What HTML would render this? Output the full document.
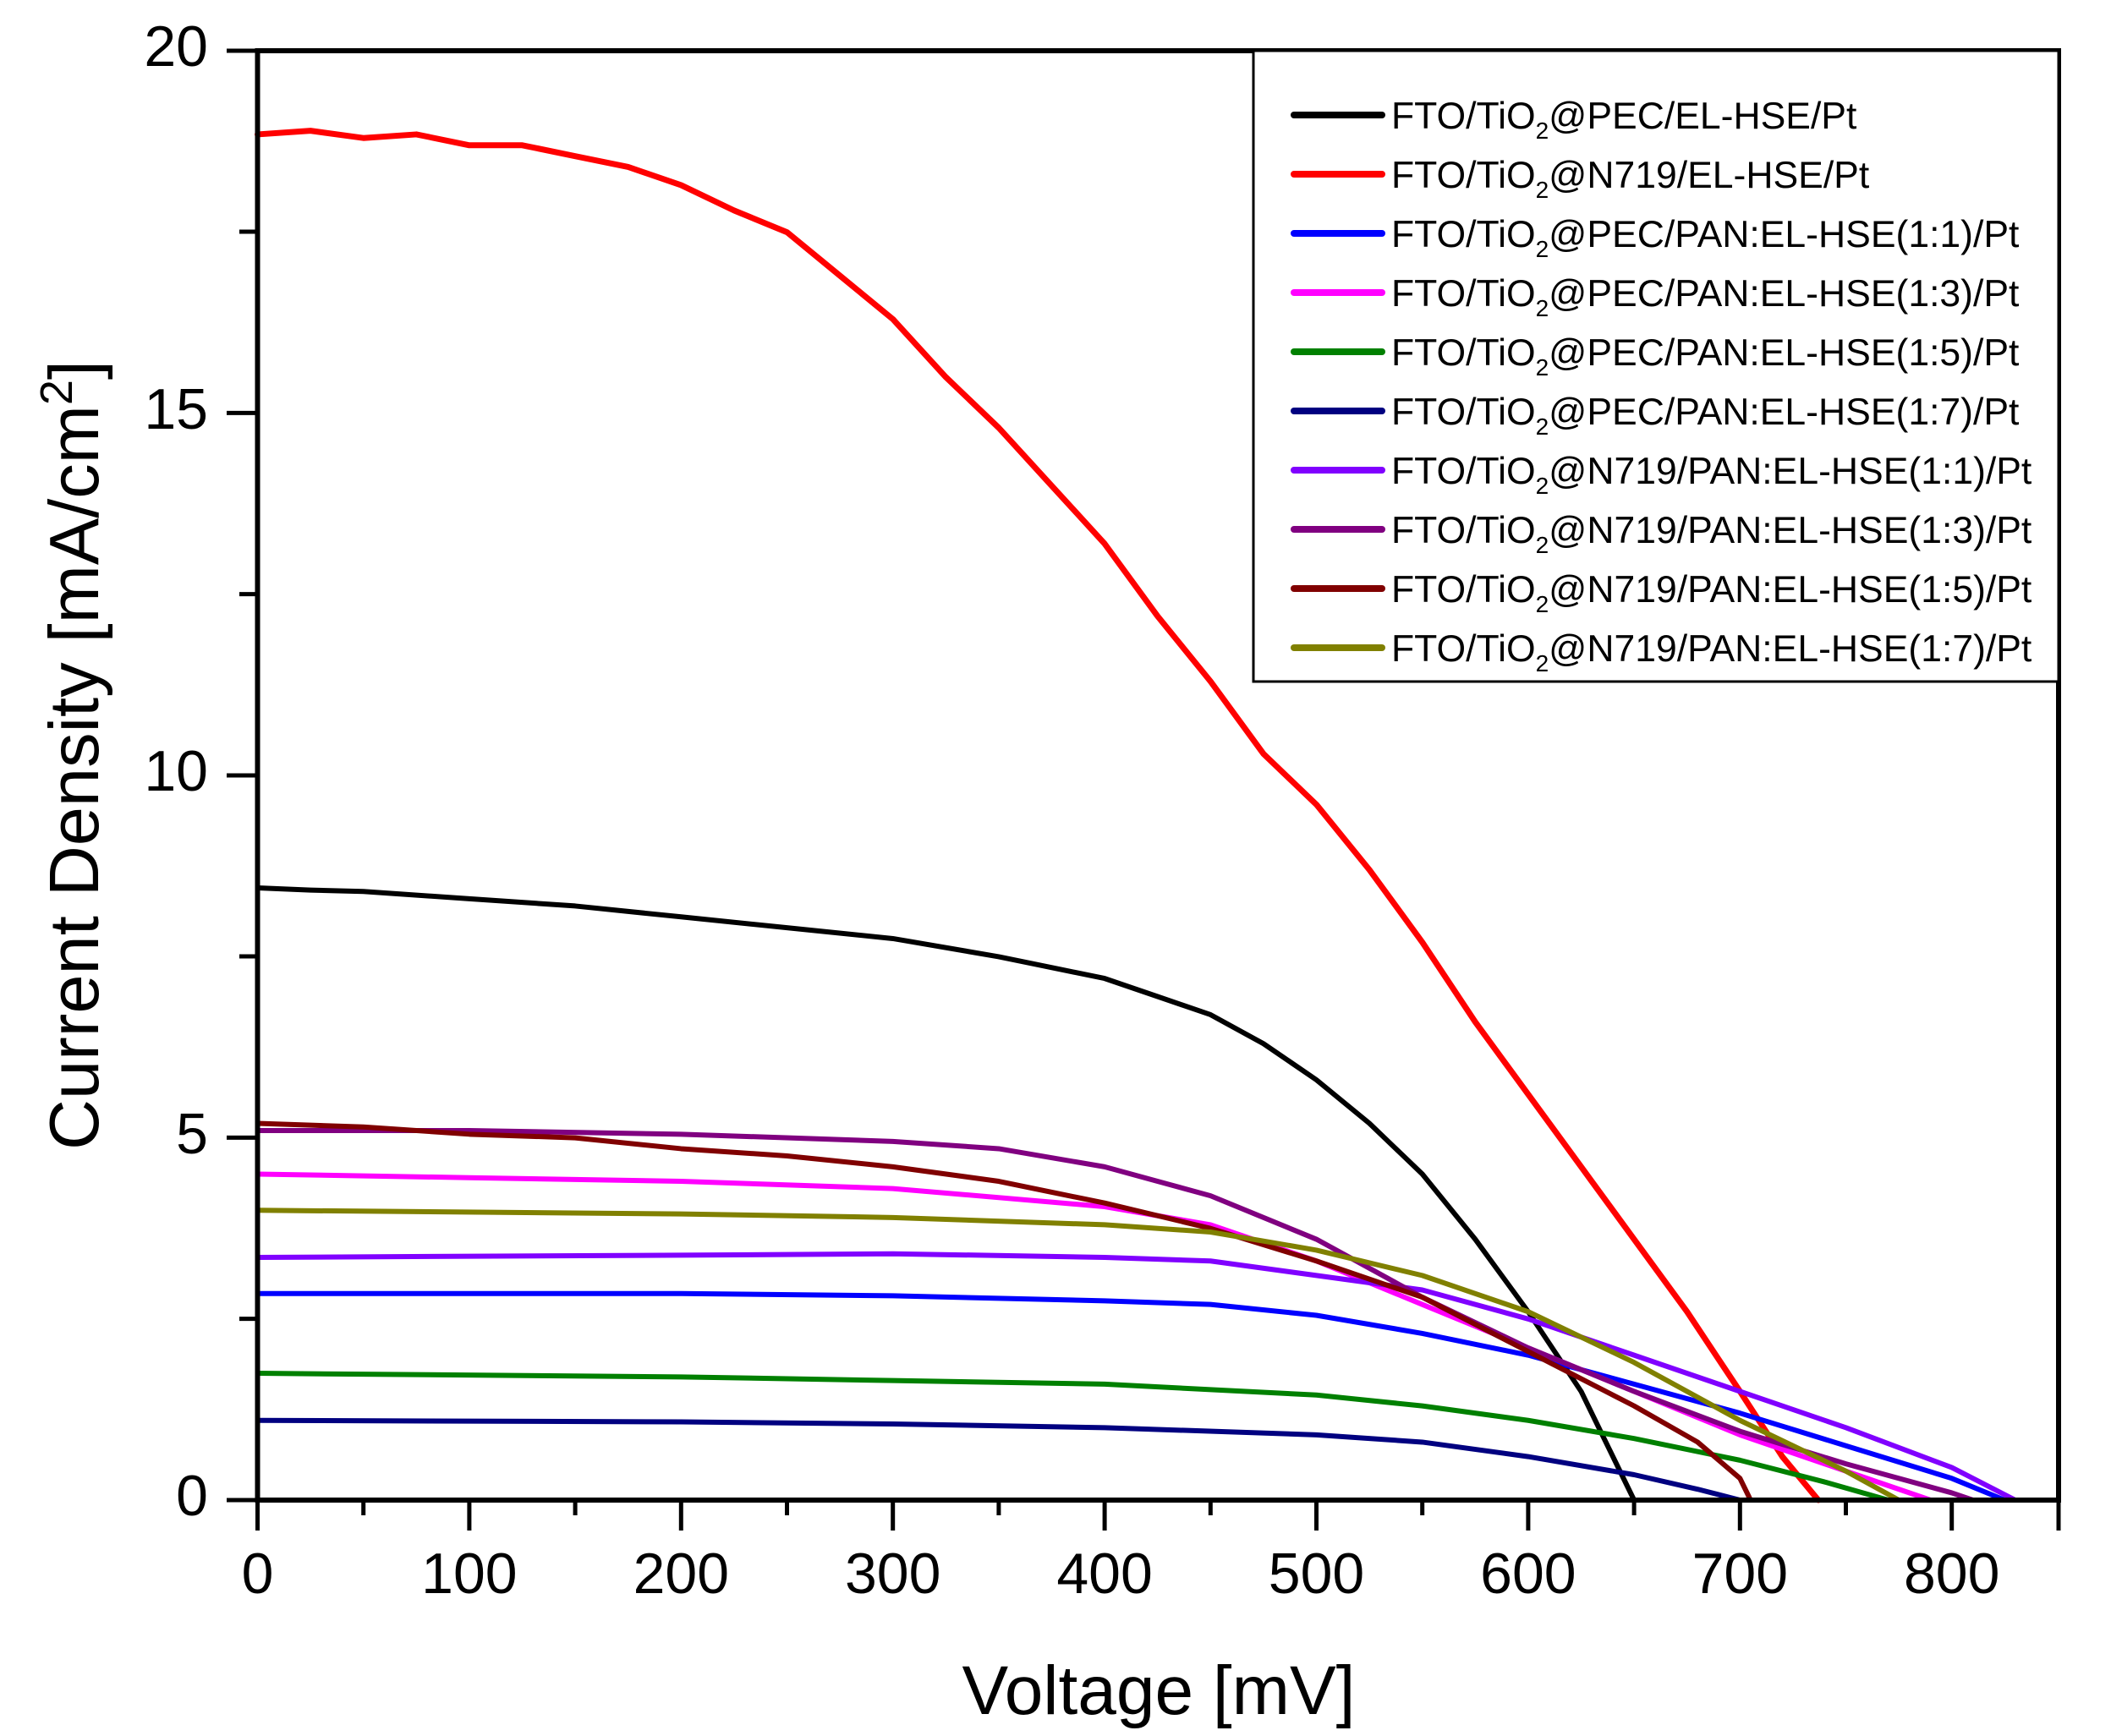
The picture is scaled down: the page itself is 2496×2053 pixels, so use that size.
<!DOCTYPE html>
<html><head><meta charset="utf-8"><style>
html,body{margin:0;padding:0;background:#fff}
svg{display:block}
text{font-family:"Liberation Sans",Arial,sans-serif;fill:#000}
</style></head><body>
<svg width="2496" height="2053" viewBox="0 0 2496 2053" xmlns="http://www.w3.org/2000/svg">
<g fill="none" stroke-linejoin="round" stroke-linecap="round" transform="translate(304.5,1774) scale(2.504,-85.68)">
<polyline vector-effect="non-scaling-stroke" stroke="#000" stroke-width="6" points="0,8.45 25,8.42 50,8.4 100,8.3 150,8.2 200,8.05 250,7.9 300,7.75 350,7.5 400,7.2 425,6.95 450,6.7 475,6.3 500,5.8 525,5.2 550,4.5 575,3.6 600,2.6 625,1.5 640,0.6 650,0"/>
<polyline vector-effect="non-scaling-stroke" stroke="#ff0000" stroke-width="7" points="0,18.85 25,18.9 50,18.8 75,18.85 100,18.7 125,18.7 150,18.55 175,18.4 200,18.15 225,17.8 250,17.5 275,16.9 300,16.3 325,15.5 350,14.8 375,14.0 400,13.2 425,12.2 450,11.3 475,10.3 500,9.6 525,8.7 550,7.7 575,6.6 600,5.6 625,4.6 650,3.6 675,2.6 700,1.5 720,0.6 737,0"/>
<polyline vector-effect="non-scaling-stroke" stroke="#0000ff" stroke-width="6" points="0,2.85 100,2.85 200,2.85 300,2.82 400,2.75 450,2.7 500,2.55 550,2.3 600,2.0 650,1.6 700,1.2 750,0.75 800,0.3 825,0"/>
<polyline vector-effect="non-scaling-stroke" stroke="#ff00ff" stroke-width="6" points="0,4.5 100,4.45 200,4.4 300,4.3 400,4.05 450,3.8 500,3.3 550,2.7 600,2.1 650,1.5 700,0.9 750,0.4 790,0"/>
<polyline vector-effect="non-scaling-stroke" stroke="#008000" stroke-width="6" points="0,1.75 200,1.7 300,1.65 400,1.6 500,1.45 550,1.3 600,1.1 650,0.85 700,0.55 740,0.25 770,0"/>
<polyline vector-effect="non-scaling-stroke" stroke="#000080" stroke-width="6" points="0,1.1 200,1.08 300,1.05 400,1.0 500,0.9 550,0.8 600,0.6 650,0.35 680,0.15 700,0"/>
<polyline vector-effect="non-scaling-stroke" stroke="#8000ff" stroke-width="6" points="0,3.35 200,3.38 300,3.4 400,3.35 450,3.3 500,3.1 550,2.9 600,2.5 650,2.0 700,1.5 750,1.0 800,0.45 830,0"/>
<polyline vector-effect="non-scaling-stroke" stroke="#800080" stroke-width="6" points="0,5.1 100,5.1 200,5.05 300,4.95 350,4.85 400,4.6 450,4.2 500,3.6 550,2.8 600,2.1 650,1.5 700,0.95 750,0.5 800,0.1 810,0"/>
<polyline vector-effect="non-scaling-stroke" stroke="#800000" stroke-width="6" points="0,5.2 50,5.15 100,5.05 150,5.0 200,4.85 250,4.75 300,4.6 350,4.4 400,4.1 450,3.75 500,3.3 550,2.8 600,2.05 650,1.3 680,0.8 700,0.3 705,0"/>
<polyline vector-effect="non-scaling-stroke" stroke="#808000" stroke-width="6" points="0,4.0 200,3.95 300,3.9 400,3.8 450,3.7 500,3.45 550,3.1 600,2.6 650,1.9 700,1.1 750,0.4 775,0"/>
</g>
<rect x="304.5" y="60" width="2129.5" height="1714" fill="none" stroke="#000" stroke-width="6"/>
<g stroke="#000" stroke-width="5">
<line x1="268" y1="60" x2="304" y2="60"/><line x1="268" y1="488.4" x2="304" y2="488.4"/><line x1="268" y1="917" x2="304" y2="917"/><line x1="268" y1="1345.4" x2="304" y2="1345.4"/><line x1="268" y1="1774" x2="304" y2="1774"/>
<line x1="283" y1="274" x2="304" y2="274"/><line x1="283" y1="702.6" x2="304" y2="702.6"/><line x1="283" y1="1131" x2="304" y2="1131"/><line x1="283" y1="1559.6" x2="304" y2="1559.6"/>
<line x1="304.5" y1="1774" x2="304.5" y2="1810"/><line x1="554.9" y1="1774" x2="554.9" y2="1810"/><line x1="805.3" y1="1774" x2="805.3" y2="1810"/><line x1="1055.7" y1="1774" x2="1055.7" y2="1810"/><line x1="1306.1" y1="1774" x2="1306.1" y2="1810"/><line x1="1556.5" y1="1774" x2="1556.5" y2="1810"/><line x1="1806.9" y1="1774" x2="1806.9" y2="1810"/><line x1="2057.3" y1="1774" x2="2057.3" y2="1810"/><line x1="2307.7" y1="1774" x2="2307.7" y2="1810"/>
<line x1="429.7" y1="1774" x2="429.7" y2="1792"/><line x1="680.1" y1="1774" x2="680.1" y2="1792"/><line x1="930.5" y1="1774" x2="930.5" y2="1792"/><line x1="1180.9" y1="1774" x2="1180.9" y2="1792"/><line x1="1431.3" y1="1774" x2="1431.3" y2="1792"/><line x1="1681.7" y1="1774" x2="1681.7" y2="1792"/><line x1="1932.1" y1="1774" x2="1932.1" y2="1792"/><line x1="2182.5" y1="1774" x2="2182.5" y2="1792"/><line x1="2434" y1="1774" x2="2434" y2="1810"/>
</g>
<g font-size="68" text-anchor="end">
<text x="246" y="78">20</text><text x="246" y="507">15</text><text x="246" y="935">10</text><text x="246" y="1364">5</text><text x="246" y="1792">0</text>
</g>
<g font-size="68" text-anchor="middle">
<text x="304.5" y="1884">0</text><text x="554.9" y="1884">100</text><text x="805.3" y="1884">200</text><text x="1055.7" y="1884">300</text><text x="1306.1" y="1884">400</text><text x="1556.5" y="1884">500</text><text x="1806.9" y="1884">600</text><text x="2057.3" y="1884">700</text><text x="2307.7" y="1884">800</text>
</g>
<text x="1370" y="2027" font-size="82" text-anchor="middle">Voltage [mV]</text>
<text transform="translate(116,893) rotate(-90)" font-size="83" text-anchor="middle">Current Density [mA/cm<tspan font-size="54" dy="-31">2</tspan><tspan dy="31">]</tspan></text>
<rect x="1482" y="60" width="952" height="746" fill="#fff" stroke="#000" stroke-width="3"/>
<g stroke-width="8" stroke-linecap="round">
<line x1="1530" y1="136" x2="1634" y2="136" stroke="#000"/>
<line x1="1530" y1="206" x2="1634" y2="206" stroke="#ff0000"/>
<line x1="1530" y1="276" x2="1634" y2="276" stroke="#0000ff"/>
<line x1="1530" y1="346" x2="1634" y2="346" stroke="#ff00ff"/>
<line x1="1530" y1="416" x2="1634" y2="416" stroke="#008000"/>
<line x1="1530" y1="486" x2="1634" y2="486" stroke="#000080"/>
<line x1="1530" y1="556" x2="1634" y2="556" stroke="#8000ff"/>
<line x1="1530" y1="626" x2="1634" y2="626" stroke="#800080"/>
<line x1="1530" y1="696" x2="1634" y2="696" stroke="#800000"/>
<line x1="1530" y1="766" x2="1634" y2="766" stroke="#808000"/>
</g>
<g font-size="44.5">
<text x="1645" y="152">FTO/TiO<tspan font-size="28" dy="12">2</tspan><tspan dy="-12">@PEC/EL-HSE/Pt</tspan></text>
<text x="1645" y="222">FTO/TiO<tspan font-size="28" dy="12">2</tspan><tspan dy="-12">@N719/EL-HSE/Pt</tspan></text>
<text x="1645" y="292">FTO/TiO<tspan font-size="28" dy="12">2</tspan><tspan dy="-12">@PEC/PAN:EL-HSE(1:1)/Pt</tspan></text>
<text x="1645" y="362">FTO/TiO<tspan font-size="28" dy="12">2</tspan><tspan dy="-12">@PEC/PAN:EL-HSE(1:3)/Pt</tspan></text>
<text x="1645" y="432">FTO/TiO<tspan font-size="28" dy="12">2</tspan><tspan dy="-12">@PEC/PAN:EL-HSE(1:5)/Pt</tspan></text>
<text x="1645" y="502">FTO/TiO<tspan font-size="28" dy="12">2</tspan><tspan dy="-12">@PEC/PAN:EL-HSE(1:7)/Pt</tspan></text>
<text x="1645" y="572">FTO/TiO<tspan font-size="28" dy="12">2</tspan><tspan dy="-12">@N719/PAN:EL-HSE(1:1)/Pt</tspan></text>
<text x="1645" y="642">FTO/TiO<tspan font-size="28" dy="12">2</tspan><tspan dy="-12">@N719/PAN:EL-HSE(1:3)/Pt</tspan></text>
<text x="1645" y="712">FTO/TiO<tspan font-size="28" dy="12">2</tspan><tspan dy="-12">@N719/PAN:EL-HSE(1:5)/Pt</tspan></text>
<text x="1645" y="782">FTO/TiO<tspan font-size="28" dy="12">2</tspan><tspan dy="-12">@N719/PAN:EL-HSE(1:7)/Pt</tspan></text>
</g>
</svg>
</body></html>
